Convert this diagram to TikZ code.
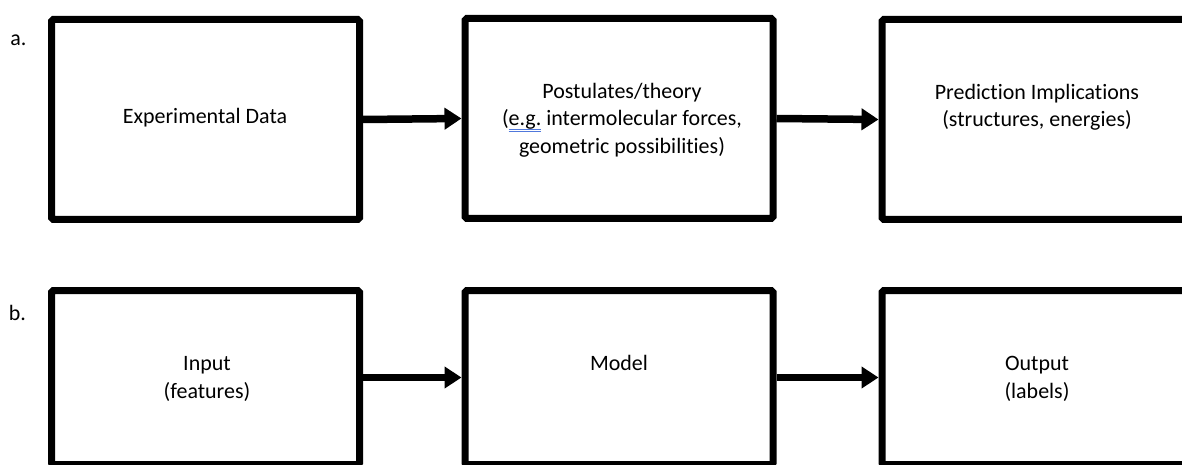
\documentclass[tikz,border=0pt]{standalone}
\usepackage{fontspec}
\setmainfont[Ligatures=NoCommon]{Carlito}
\usepackage{tikz}
\usetikzlibrary{arrows.meta}

\definecolor{spellblue}{RGB}{80,120,220}

% double underline under a word
\newcommand{\dblunder}[1]{\setbox0\hbox{#1}%
	\rlap{\color{spellblue}\rule[-2.2pt]{\wd0}{0.45pt}}%
	\rlap{\color{spellblue}\rule[-3.5pt]{\wd0}{0.45pt}}\box0\relax}

\begin{document}
\begin{tikzpicture}[
		box/.style={draw, line width=0.14cm, rounded corners=1pt, minimum width=6.16cm},
		arr/.style={line width=0.15cm, -{Triangle[length=0.34cm, width=0.42cm]}},
		lbl/.style={align=center, font=\fontsize{12.5}{15.6}\selectfont}
	]
		\useasboundingbox (0,0) rectangle (23.64,-9.30);

		% row a
		\node[anchor=center] (tag-a) at (0.37,-0.80) {\fontsize{12.5}{15}\selectfont a.};
		\node[box, minimum height=4.0cm] (data) at (4.11,-2.39) {};
		\node[box, minimum height=4.0cm] (theory) at (12.38,-2.37) {};
		\node[box, minimum height=4.0cm] (pred) at (20.72,-2.39) {};

		\node[lbl] (data-txt) at (4.10,-2.36) {Experimental Data};
		\node[lbl] (theory-txt) at (12.44,-2.40) {Postulates/theory\\(\dblunder{e.g.} intermolecular forces,\\geometric possibilities)};
		\node[lbl] (pred-txt) at (20.74,-2.14) {Prediction Implications\\(structures, energies)};

		\draw[arr] (data.east) -- (theory.west);
		\draw[arr] (theory.east) -- (pred.west);

		% row b
		\node[anchor=center] (tag-b) at (0.35,-6.26) {\fontsize{12.5}{15}\selectfont b.};
		\node[box, minimum height=3.48cm] (input) at (4.11,-7.55) {};
		\node[box, minimum height=3.48cm] (model) at (12.38,-7.55) {};
		\node[box, minimum height=3.48cm] (output) at (20.72,-7.55) {};

		\node[lbl] (input-txt) at (4.14,-7.58) {Input\\(features)};
		\node[lbl] (model-txt) at (12.38,-7.26) {Model};
		\node[lbl] (output-txt) at (20.74,-7.58) {Output\\(labels)};

		\draw[arr] (input.east) -- (model.west);
		\draw[arr] (model.east) -- (output.west);

	\end{tikzpicture}
\end{document}
